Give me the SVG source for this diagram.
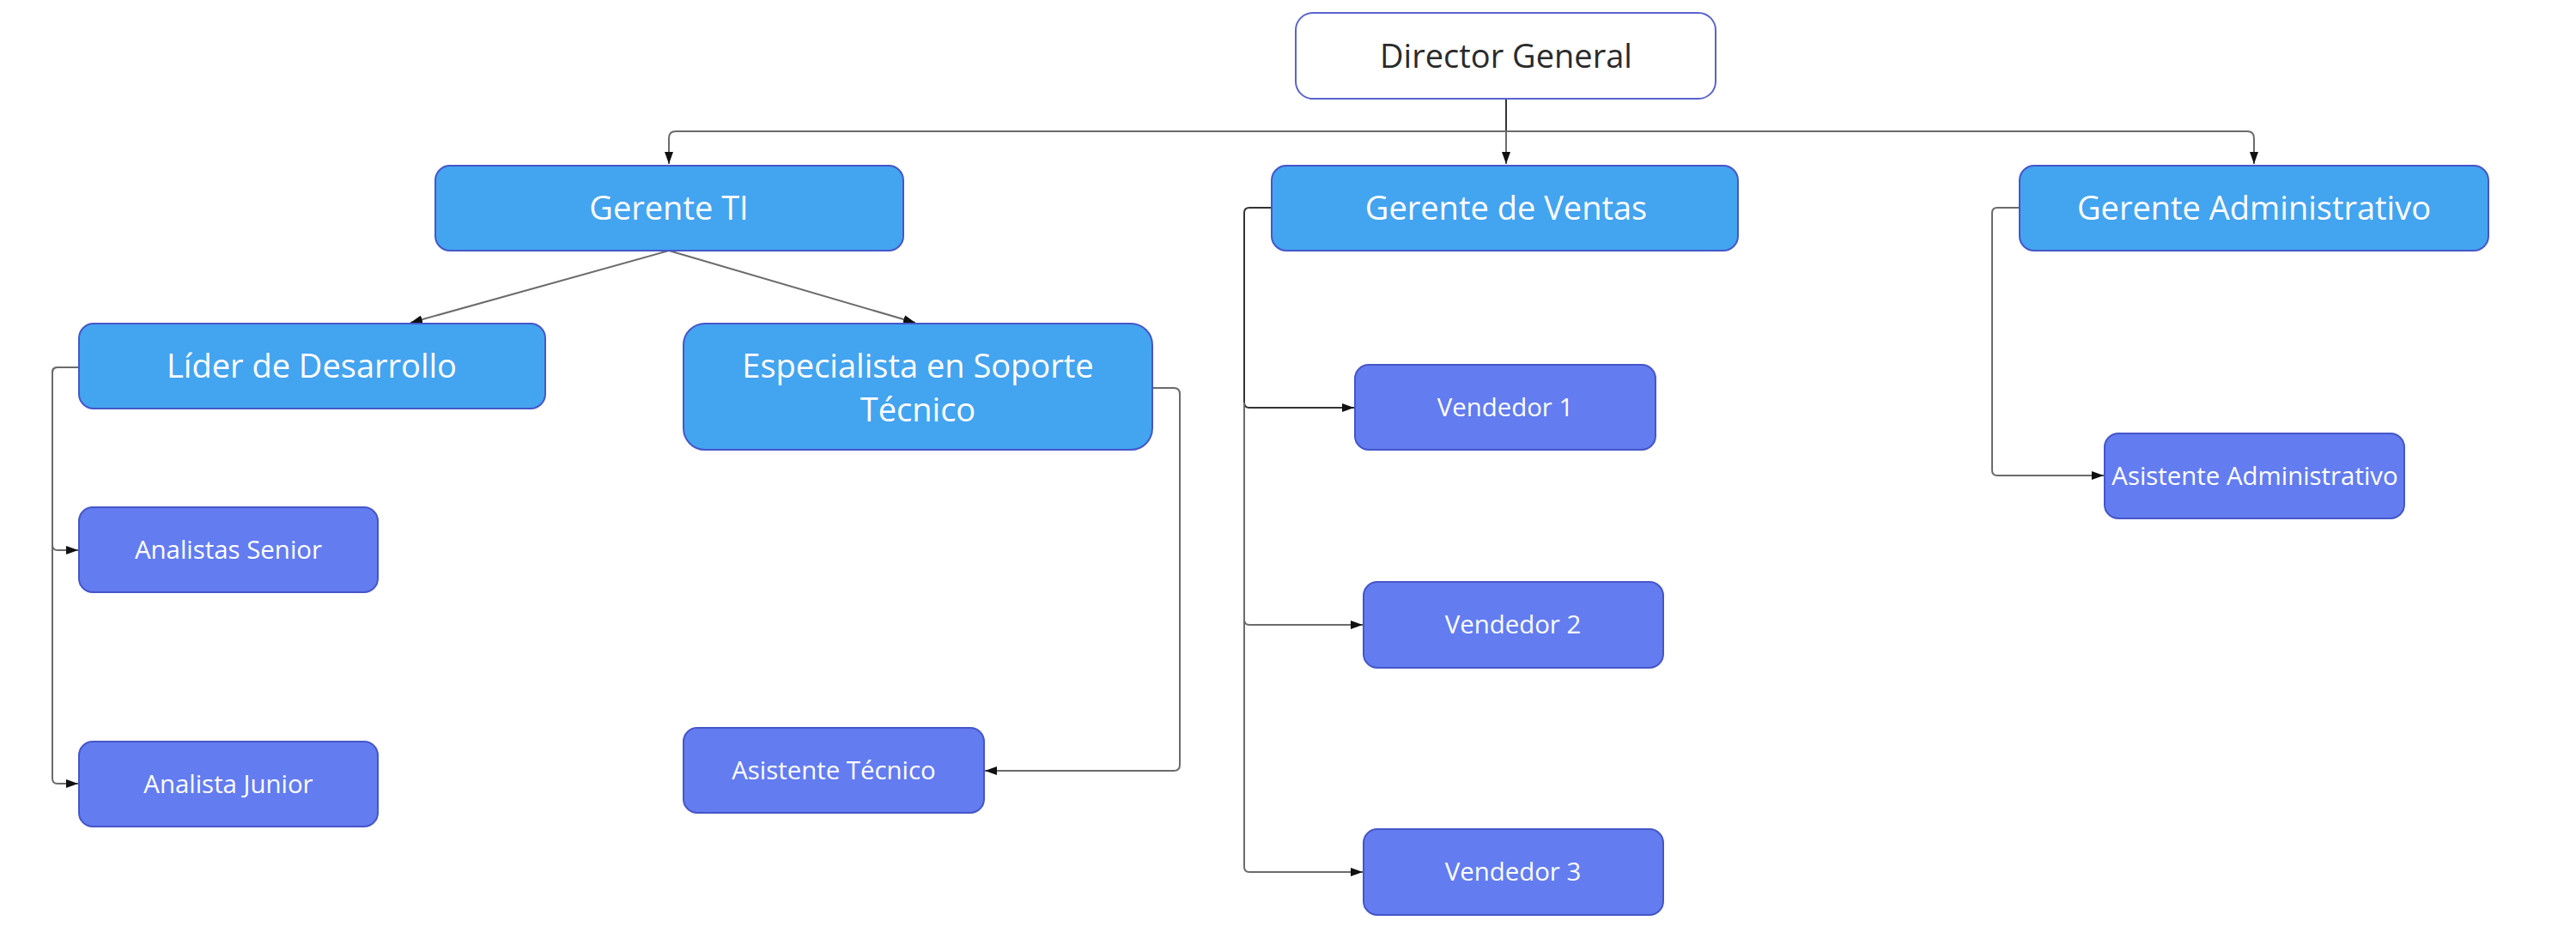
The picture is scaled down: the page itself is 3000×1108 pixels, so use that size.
<svg xmlns="http://www.w3.org/2000/svg" width="3000" height="1108" viewBox="0 0 3000 1108">
<defs>
<style>
.n rect{stroke:#4656c8;stroke-width:2}
.top rect{fill:#fff;stroke:#5a63cf}
.mgr rect{fill:#43a4f0}
.sub rect{fill:#637cf0}
text{font-family:"Open Sans","Noto Sans","DejaVu Sans",sans-serif;text-anchor:middle;fill:#fff}
.top text{fill:#2b2b2b;font-size:38px}
.mgr text{font-size:38px}
.sub text{font-size:29.4px}
.c path{fill:none;stroke:#6b6b6b;stroke-width:2}
.c path.dk{stroke:#333}
</style>
<marker id="ah" markerUnits="userSpaceOnUse" viewBox="0 0 14 10" refX="14" refY="5" markerWidth="14" markerHeight="10" orient="auto">
<path d="M0,0 L14,5 L0,10 z" fill="#111"/>
</marker>
</defs>
<rect width="3000" height="1108" fill="#fff"/>
<g class="c" id="connectors">
<path class="dk" d="M1754,115 V153"/>
<path d="M1754,153 H787 Q779,153 779,161 V191" marker-end="url(#ah)"/>
<path d="M1754,153 V191" marker-end="url(#ah)"/>
<path d="M1754,153 H2617 Q2625,153 2625,161 V191" marker-end="url(#ah)"/>
<path d="M779,292 L478,376" marker-end="url(#ah)"/>
<path d="M779,292 L1066,376" marker-end="url(#ah)"/>
<path d="M92,428 H67 Q61,428 61,434 V635 Q61,641 67,641 H91" marker-end="url(#ah)"/>
<path d="M92,428 H67 Q61,428 61,434 V907 Q61,913 67,913 H91" marker-end="url(#ah)"/>
<path d="M1342,452 H1367 Q1374,452 1374,459 V891 Q1374,898 1367,898 H1147" marker-end="url(#ah)"/>
<path class="dk" d="M1481,242 H1455 Q1449,242 1449,248 V469 Q1449,475 1455,475 H1577" marker-end="url(#ah)"/>
<path d="M1449,469 V722 Q1449,728 1455,728 H1587" marker-end="url(#ah)"/>
<path d="M1449,722 V1010 Q1449,1016 1455,1016 H1587" marker-end="url(#ah)"/>
<path d="M2352,242 H2326 Q2320,242 2320,248 V548 Q2320,554 2326,554 H2450" marker-end="url(#ah)"/>
</g>
<g id="director" class="n top"><rect x="1509" y="15" width="489" height="100" rx="20"/><text x="1754" y="79">Director General</text></g>
<g id="gerente-ti" class="n mgr"><rect x="507" y="193" width="545" height="99" rx="17"/><text x="779" y="256">Gerente TI</text></g>
<g id="gerente-ventas" class="n mgr"><rect x="1481" y="193" width="543" height="99" rx="17"/><text x="1754" y="256">Gerente de Ventas</text></g>
<g id="gerente-admin" class="n mgr"><rect x="2352" y="193" width="546" height="99" rx="17"/><text x="2625" y="256">Gerente Administrativo</text></g>
<g id="lider" class="n mgr"><rect x="92" y="377" width="543" height="99" rx="17"/><text x="363" y="440">Líder de Desarrollo</text></g>
<g id="especialista" class="n mgr"><rect x="796" y="377" width="546" height="147" rx="25"/><text x="1069" y="440">Especialista en Soporte</text><text x="1069" y="491">Técnico</text></g>
<g id="analistas-senior" class="n sub"><rect x="92" y="591" width="348" height="99" rx="16"/><text x="266" y="651">Analistas Senior</text></g>
<g id="analista-junior" class="n sub"><rect x="92" y="864" width="348" height="99" rx="16"/><text x="266" y="924">Analista Junior</text></g>
<g id="asistente-tecnico" class="n sub"><rect x="796" y="848" width="350" height="99" rx="16"/><text x="971" y="908">Asistente Técnico</text></g>
<g id="vendedor-1" class="n sub"><rect x="1578" y="425" width="350" height="99" rx="16"/><text x="1753" y="485">Vendedor 1</text></g>
<g id="vendedor-2" class="n sub"><rect x="1588" y="678" width="349" height="100" rx="16"/><text x="1762" y="738">Vendedor 2</text></g>
<g id="vendedor-3" class="n sub"><rect x="1588" y="966" width="349" height="100" rx="16"/><text x="1762" y="1026">Vendedor 3</text></g>
<g id="asistente-admin" class="n sub"><rect x="2451" y="505" width="349" height="99" rx="16"/><text x="2626" y="565">Asistente Administrativo</text></g>
</svg>
